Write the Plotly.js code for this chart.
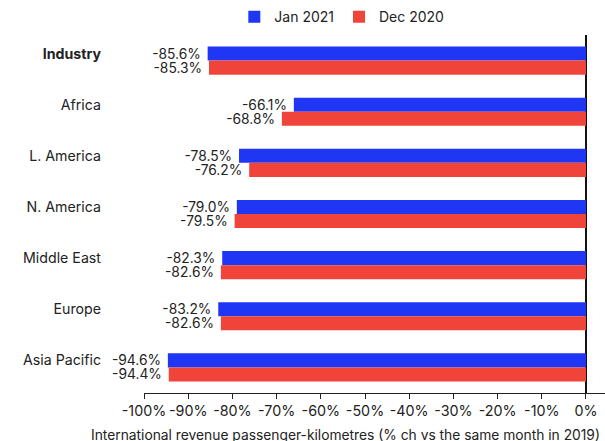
<!DOCTYPE html>
<html>
<head>
<meta charset="utf-8">
<script src="https://cdn.plot.ly/plotly-3.0.1.min.js"></script>
<style>html,body{margin:0;padding:0;background:#fff;}#chart{width:605px;height:441px;}</style>
</head>
<body>
<div id="chart"></div>
<script>
const categories = ["Industry", "Africa", "L. America", "N. America", "Middle East", "Europe", "Asia Pacific"];
const categoryLabels = ["<b>Industry</b>", "Africa", "L. America", "N. America", "Middle East", "Europe", "Asia Pacific"];
const jan2021 = [-85.6, -66.1, -78.5, -79.0, -82.3, -83.2, -94.6];
const dec2020 = [-85.3, -68.8, -76.2, -79.5, -82.6, -82.6, -94.4];
const seriesNames = ["Jan 2021", "Dec 2020"];
const xTickVals = [-100, -90, -80, -70, -60, -50, -40, -30, -20, -10, 0];
const xTickText = ["-100%", "-90%", "-80%", "-70%", "-60%", "-50%", "-40%", "-30%", "-20%", "-10%", "0%"];
const xTitle = "International revenue passenger-kilometres (% ch vs the same month in 2019)";

const FONT = "Inter, 'Liberation Sans', Arial, sans-serif";
const common = {
  type: "bar", orientation: "h", y: categories,
  texttemplate: "%{x:.1f}%\u00A0", textposition: "outside", cliponaxis: false, constraintext: "none",
  textfont: {size: 13.8, color: "#222", family: FONT}, hoverinfo: "skip"
};
const traces = [
  Object.assign({}, common, {name: seriesNames[0], x: jan2021, marker: {color: "#1F36F5"}}),
  Object.assign({}, common, {name: seriesNames[1], x: dec2020, marker: {color: "#F0443A"}})
];
const layout = {
  width: 605, height: 441,
  margin: {l: 144, r: 0, t: 35, b: 48},
  paper_bgcolor: "#fff", plot_bgcolor: "#fff",
  font: {family: FONT, size: 14, color: "#222"},
  barmode: "group", bargap: 0.45, bargroupgap: 0,
  showlegend: true,
  legend: {orientation: "h", xref: "container", yref: "container", x: 0.565, xanchor: "center", y: 0.961, yanchor: "middle",
           font: {size: 14, color: "#222"}, traceorder: "normal", itemwidth: 30},
  xaxis: {
    range: [-100, 4.3], tickmode: "array", tickvals: xTickVals, ticktext: xTickText,
    ticks: "outside", ticklen: 5, tickcolor: "#222",
    showline: true, linecolor: "#222", linewidth: 1, showgrid: false,
    zeroline: true, zerolinecolor: "#111", zerolinewidth: 1.5,
    tickfont: {size: 14.3, color: "#222"}
  },
  yaxis: {
    autorange: "reversed", tickvals: categories, ticktext: categoryLabels,
    showgrid: false, zeroline: false, showline: false, ticks: "", ticklabelstandoff: 42,
    ticklabelshift: 7,
    tickfont: {size: 14.2, color: "#222"}
  },
  annotations: [{
    text: xTitle, xref: "paper", yref: "paper", x: 0.438, y: 0, xanchor: "center", yanchor: "top",
    yshift: -32, showarrow: false, font: {size: 13.8, color: "#222"}
  }]
};
Plotly.newPlot("chart", traces, layout, {staticPlot: true, displayModeBar: false});
</script>
</body>
</html>
